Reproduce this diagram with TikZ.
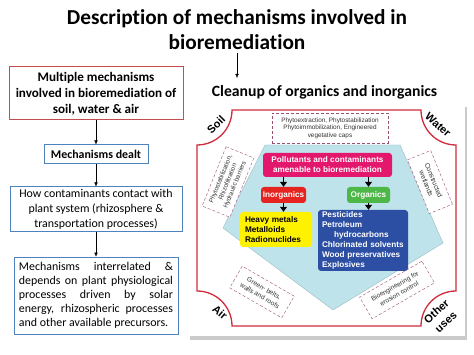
\documentclass[tikz,border=0pt]{standalone}
\usepackage{fontspec}
\setmainfont{Carlito}[Ligatures=NoCommon]
\newfontfamily\arialfont{Liberation Sans}
\usepackage{tikz}
\usetikzlibrary{arrows.meta,positioning,shadows}
\definecolor{boxred}{HTML}{C0504D}
\definecolor{boxblue}{HTML}{4F81BD}
\definecolor{frame}{HTML}{D32A3C}
\definecolor{penta}{HTML}{BFE3EA}
\definecolor{pentaline}{HTML}{98BCC4}
\definecolor{dashline}{HTML}{9B4F73}
\definecolor{textgrey}{HTML}{333333}
\definecolor{pinkbox}{HTML}{E3186D}
\definecolor{inorgred}{HTML}{E52421}
\definecolor{orggreen}{HTML}{4DB748}
\definecolor{metalyel}{HTML}{FFF200}
\definecolor{orgblue}{HTML}{2D4FA3}
\tikzset{
  leftbox/.style={draw=#1,line width=1pt,fill=white,align=center,inner sep=2pt,font=\fontsize{11.9}{15}\selectfont},
  arr/.style={-{Latex[length=4pt,width=3.5pt]},thin,black},
  hint/.style={draw=dashline,densely dashed,thin,fill=white,align=center,inner sep=3pt,font=\arialfont\fontsize{6.4}{7.6}\selectfont,text=textgrey},
  tag/.style={rounded corners=3pt,font=\arialfont\bfseries\fontsize{8.2}{9.9}\selectfont,inner sep=0pt},
  tri/.style={-{Triangle[length=5pt,width=7pt]},line width=1pt,black},
  corner/.style={font=\arialfont\bfseries\fontsize{11}{14}\selectfont,align=center}
}
\begin{document}
\begin{tikzpicture}[x=1pt,y=1pt]
  \useasboundingbox (0,0) rectangle (474,355);
  \node[font=\bfseries\fontsize{21.3}{25}\selectfont,align=center] (title) at (237,325.5)
    {Description of mechanisms involved in\\bioremediation};
  \coordinate (down) at (237,277);
  \draw[arr] (title) -- (down);

  \node[leftbox=boxred,font=\bfseries\fontsize{13.1}{16}\selectfont,minimum width=174pt,minimum height=53pt] (mult) at (96,261.5)
    {Multiple mechanisms\\involved in bioremediation of\\soil, water \& air};
  \node[leftbox=boxblue,font=\bfseries\fontsize{11.9}{15}\selectfont,minimum width=104pt,minimum height=19pt,below=24pt of mult] (dealt)
    {Mechanisms dealt};
  \node[leftbox=boxblue,minimum width=172pt,minimum height=42pt,below=22pt of dealt] (contact)
    {How contaminants contact with\\plant system (rhizosphere \&\\transportation processes)};
  \node[leftbox=boxblue,font=\fontsize{11.9}{14}\selectfont,text width=154pt,align=justify,minimum width=164pt,minimum height=77pt,below=25pt of contact] (interrel)
    {Mechanisms interrelated \&\linebreak depends on plant physiological\linebreak processes driven by solar\linebreak energy, rhizospheric processes\linebreak and other available precursors.};
  \draw[arr] (mult) -- (dealt);
  \draw[arr] (dealt) -- (contact);
  \draw[arr] (contact) -- (interrel);

  \node[font=\bfseries\fontsize{15.7}{18}\selectfont] (cleanup) at (324.5,263) {Cleanup of organics and inorganics};
  \node[fill=white,inner sep=0pt,minimum width=277pt,minimum height=233pt,
    drop shadow={shadow xshift=2pt,shadow yshift=-4pt,opacity=0.35,fill=black!60}] (panel) at (326.5,135.5) {};
  \draw[frame,line width=1.3pt] (232,245) -- (421,245) arc[start angle=180,end angle=270,radius=35]
    -- (456,64) arc[start angle=90,end angle=180,radius=35]
    -- (232,29) arc[start angle=0,end angle=90,radius=35]
    -- (197,210) arc[start angle=270,end angle=360,radius=35] -- cycle;
  \node[corner,rotate=45] (soil) at (216,230) {Soil};
  \node[corner,rotate=-42] (water) at (438,230) {Water};
  \node[corner,rotate=-40] (air) at (220,43) {Air};
  \node[corner,rotate=42] (other) at (441,38.5) {Other\\uses};

  \draw[fill=penta,draw=pentaline] (265,210) -- (400,210) -- (443,112) -- (333,45) -- (223,127) -- cycle;

  \node[hint,minimum width=116pt,minimum height=30pt] (extr) at (330,227)
    {Phytoextraction, Phytostabilization\\Phytoimmobilization, Engineered\\vegetative caps};
  \node[hint,rotate=68,minimum width=64pt,minimum height=30pt] (rhizo) at (228,173) {Phytostabilization,\\Rhizofiltration\\Hydraulic barriers};
  \node[hint,rotate=-68,minimum width=58pt,minimum height=25pt,font=\arialfont\fontsize{6.8}{8}\selectfont] (wet) at (430,173) {Constructed\\wetlands};
  \node[hint,rotate=-30,minimum width=60pt,minimum height=25pt,font=\arialfont\fontsize{6.6}{8.5}\selectfont] (green) at (262,63) {Green- belts,\\walls and roofs};
  \node[hint,rotate=30,minimum width=72pt,minimum height=25pt,font=\arialfont\fontsize{6.6}{8.5}\selectfont] (bioeng) at (397,65) {Bioengineering for\\erosion control};

  \node[tag,fill=pinkbox,text=white,align=center,minimum width=129pt,minimum height=24pt] (poll) at (327.5,190)
    {Pollutants and contaminants\\amenable to bioremediation};
  \node[tag,fill=inorgred,text=white,minimum width=45pt,minimum height=16pt] (inorg) at (283.5,160) {Inorganics};
  \node[tag,fill=orggreen,text=white,minimum width=43pt,minimum height=16pt] (orgn) at (368.5,160) {Organics};
  \node[tag,fill=metalyel,text=black,align=left,text width=62pt,minimum width=72pt,minimum height=35pt] (metals) at (276,125.5)
    {Heavy metals\\Metalloids\\Radionuclides};
  \node[tag,fill=orgblue,text=white,align=left,text width=82pt,minimum width=90pt,minimum height=61pt] (orgs) at (363,114.5)
    {Pesticides\\Petroleum\\\hspace*{12pt}hydrocarbons\\Chlorinated solvents\\Wood preservatives\\Explosives};
  \draw[tri] (poll.south -| inorg.north) -- (inorg.north);
  \draw[tri] (poll.south -| orgn.north) -- (orgn.north);
  \draw[tri] (inorg) -- (inorg.south |- metals.north);
  \draw[tri] (orgn) -- (orgn.south |- orgs.north);
\end{tikzpicture}
\end{document}
